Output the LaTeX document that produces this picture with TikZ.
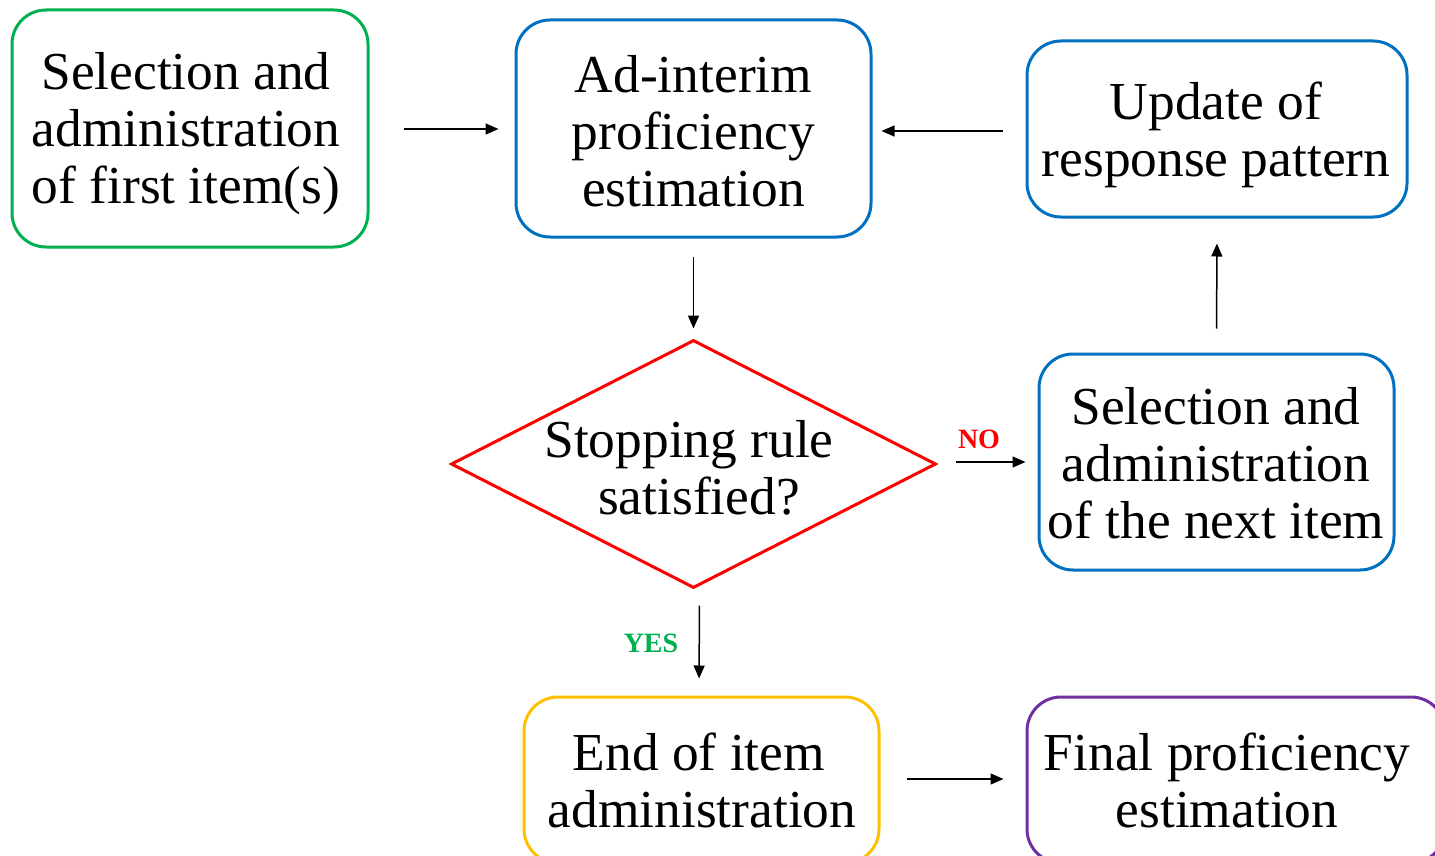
\documentclass[tikz,border=0pt]{standalone}
\usepackage{fontspec}
\setmainfont{Liberation Serif}
\usetikzlibrary{arrows.meta,shapes.geometric,calc}
\definecolor{cgreen}{RGB}{0,176,80}
\definecolor{cblue}{RGB}{0,112,192}
\definecolor{cred}{RGB}{255,0,0}
\definecolor{cyellow}{RGB}{255,192,0}
\definecolor{cpurple}{RGB}{112,48,160}
\tikzset{
  bigtext/.style={align=center, inner sep=0pt, font=\fontsize{26.7}{28.5}\selectfont},
  box/.style={draw, line width=1.5pt, rounded corners=17pt, bigtext},
  arr/.style={-{Triangle[length=6.5pt,width=5.5pt]}, line width=0.75pt, black},
  lbl/.style={font=\fontsize{14}{16}\selectfont\bfseries, inner sep=0pt}
}
\begin{document}
\begin{tikzpicture}[x=0.5pt,y=-0.5pt]
\clip (0,0) rectangle (1435,856);
\fill[white] (0,0) rectangle (1435,856);
% boxes
\node[box, draw=cgreen, minimum width=178pt, minimum height=118.5pt] (first) at (190,128.5) {};
\node[bigtext] (firsttxt) at (186,134) {Selection and\\administration\\of first item(s)};
\node[box, draw=cblue, minimum width=177.5pt, minimum height=108.5pt] (adint) at (693.5,128.5) {};
\node[bigtext] (adinttxt) at (693.5,131) {Ad-interim\\proficiency\\estimation};
\node[box, draw=cblue, minimum width=190pt, minimum height=88pt] (update) at (1217,129) {};
\node[bigtext] (updatetxt) at (1216,135) {Update of\\response pattern};
\node[diamond, draw=cred, line width=1.5pt, minimum width=242.5pt, minimum height=124pt, inner sep=0pt] (diam) at (693.5,464) {};
\node[bigtext] (diamtxt) at (689,468) {Stopping rule\\\hspace*{10pt}satisfied?};
\node[box, draw=cblue, minimum width=177.5pt, minimum height=108pt] (next) at (1216.5,462) {};
\node[bigtext] (nexttxt) at (1216,463) {Selection and\\administration\\of the next item};
\node[box, draw=cyellow, minimum width=177.5pt, minimum height=83pt] (endadm) at (701.5,780) {};
\node[bigtext] (endtxt) at (699,780) {End of item\\\hspace*{3pt}administration};
\node[box, draw=cpurple, minimum width=209pt, minimum height=83pt] (final) at (1236,780) {};
\node[bigtext] (finaltxt) at (1227,780) {Final proficiency\\estimation};
% arrows
\draw[arr, shorten <=17pt, shorten >=8pt] (first.east |- 0,129) -- (adint.west |- 0,129);
\draw[arr, shorten <=11.5pt, shorten >=4.5pt] (update.west |- 0,131) -- (adint.east |- 0,131);
\draw[arr, shorten <=9pt, shorten >=5pt] (adint.south) -- (diam.north);
\draw[arr, shorten <=9pt, shorten >=6pt] (diam.east |- 0,462) -- (next.west |- 0,462);
\draw[arr, shorten <=12pt, shorten >=12.5pt] (next.north) -- (update.south);
\draw[arr, shorten <=8pt, shorten >=8.5pt] ($(diam.south)+(6,0)$) -- ($(endadm.north)+(-2.5,0)$);
\draw[arr, shorten <=13pt, shorten >=11pt] (endadm.east |- 0,779) -- (final.west |- 0,779);
% labels
\node[lbl, text=cred] (no) at (979,439) {NO};
\node[lbl, text=cgreen] (yes) at (651,643) {YES};
\end{tikzpicture}
\end{document}
